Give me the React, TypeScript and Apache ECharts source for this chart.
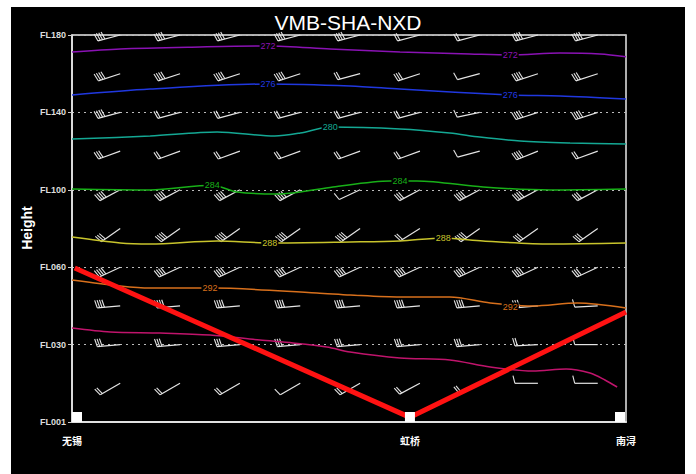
import React, { useEffect, useRef } from "react";
import * as echarts from "echarts";

// ---- axes ----
const yTickValues = [500, 600, 700, 800, 900, 1000];
const yTickLabels = ["FL180", "FL140", "FL100", "FL060", "FL030", "FL001"];
const stationNames = ["无锡", "虹桥", "南浔"];
const stationX = [0, 61, 100];

// ---- flight route (x distance, pressure hPa) ----
const routeX = [0.5, 61, 100];
const routeP = [801, 994, 858];

// ---- isotherms [x, pressure] ----
const iso272 = [[0, 522], [8.7, 518], [23.1, 515.5], [35.4, 514.2], [46.6, 518], [59.2, 522], [71.8, 524.5], [79.1, 525.8], [88.1, 523.3], [95.3, 524.5], [100, 528]];
const iso276 = [[0, 577.5], [14.1, 569.8], [35.4, 563.3], [50.2, 565.9], [59.2, 569.8], [79.1, 577.5], [88.1, 578.8], [100, 582.7]];
const iso280 = [[0, 634.4], [14.1, 630.5], [26.2, 625.3], [36.6, 630.5], [41.2, 626.6], [46.6, 618.9], [59.2, 621.4], [68.2, 626.6], [73.6, 631.8], [80.9, 637], [89.9, 639.5], [100, 640.8]];
const iso284 = [[0, 699], [14.1, 700.3], [25.3, 694], [29.8, 702.8], [37, 705.4], [41.2, 702.8], [47.1, 696.4], [57.4, 688.6], [62.3, 688.6], [74.2, 696.4], [86.3, 700.3], [100, 699]];
const iso288 = [[0, 761], [8.7, 768.7], [14.1, 770], [26.2, 766.1], [35.7, 768.7], [50.2, 767.4], [59.2, 766.1], [67, 762.3], [74.2, 766.1], [86.3, 770], [100, 768.7]];
const iso292 = [[0, 816.5], [8.7, 824.3], [14.1, 826.9], [25.3, 826.9], [44.2, 833.3], [50.2, 835.9], [59.2, 838.5], [68.2, 838.5], [75.5, 846.3], [83.2, 850.1], [91.2, 846.3], [100, 852.7]];
const iso296 = [[0, 878.6], [6.9, 883.7], [15.9, 885], [24.9, 887.6], [33.9, 894.1], [39.9, 897.9], [46, 903.1], [50.2, 909.6], [59.2, 917.3], [68.2, 919.9], [75.5, 928.9], [83.2, 934.1], [89.2, 931.5], [93.5, 936.7], [96.2, 945.7], [98.4, 954.8]];

const isoNames = ["272", "276", "280", "284", "288", "292", "296"];
const isoColors = ["#8a12b4", "#2038e0", "#14a894", "#18b018", "#c8c42c", "#d8701c", "#c0146c"];
const isoLines = [iso272, iso276, iso280, iso284, iso288, iso292, iso296];

// contour label positions [x, pressure, text]
const isoLabels = [
  [35.4, 514.2, "272"], [79.1, 525.3, "272"],
  [35.4, 563.3, "276"], [79.1, 577.5, "276"],
  [46.6, 618.9, "280"],
  [25.3, 694, "284"], [59.2, 688.6, "284"],
  [35.7, 768.7, "288"], [67, 762.3, "288"],
  [24.9, 826.9, "292"], [79.1, 851.4, "292"],
];
const isoLabelColors = ["#8a12b4", "#8a12b4", "#2038e0", "#2038e0", "#14a894", "#18b018", "#18b018", "#c8c42c", "#c8c42c", "#d8701c", "#d8701c"];

// ---- wind barbs ----
const barbX = [8.7, 19.5, 30.3, 41.2, 52.0, 62.8, 73.6, 84.1, 94.9];
const barbLevels = [500, 550, 600, 650, 700, 750, 800, 850, 900, 950];
const barbAngles = [
  [15, 15, 15, 15, 15, 15, 15, 15, 15],
  [18, 18, 18, 18, 15, 18, 15, 18, 18],
  [15, 15, 15, 15, 15, 15, 12, 18, 18],
  [20, 20, 20, 20, 20, 20, 15, 22, 20],
  [28, 28, 28, 28, 25, 28, 28, 28, 28],
  [35, 35, 35, 35, 35, 32, 35, 35, 35],
  [25, 25, 25, 25, 25, 25, 25, 25, 25],
  [5, 5, 5, 5, 5, 5, 5, 5, 3],
  [5, 5, 5, 5, 5, 5, 5, 3, 0],
  [30, 30, 30, 30, 30, 28, 25, 0, 0],
];
const barbCounts = [
  [4, 4, 4, 4, 4, 2, 2, 4, 4],
  [4, 4, 4, 4, 2, 3, 1, 4, 3],
  [4, 2, 2, 2, 2, 2, 1, 4, 4],
  [3, 2, 2, 2, 2, 2, 1, 4, 2],
  [4, 4, 4, 4, 1, 3, 4, 4, 3],
  [3, 4, 4, 4, 4, 2, 4, 3, 3],
  [4, 4, 4, 4, 4, 4, 4, 4, 3],
  [4, 4, 4, 4, 4, 4, 4, 3, 1],
  [3, 3, 3, 3, 3, 3, 3, 2, 1],
  [2, 2, 2, 1, 2, 2, 2, 1, 1],
];

export default function App() {
  const ref = useRef<HTMLDivElement>(null);

  useEffect(() => {
    if (!ref.current) return;
    const chart = echarts.init(ref.current, undefined, { renderer: "svg" });

    const barbData: number[][] = [];
    barbLevels.forEach((p, r) => {
      barbX.forEach((x, c) => {
        barbData.push([x, p, barbAngles[r][c], barbCounts[r][c]]);
      });
    });

    const barbColor = "#e4e4e4";
    const renderBarb = (params: any, api: any) => {
      const pt = api.coord([api.value(0), api.value(1)]);
      const a = (api.value(2) * Math.PI) / 180;
      const n = api.value(3);
      const L = 23, B = 8, S = 2.4;
      const dx = -Math.cos(a), dy = Math.sin(a);
      const ex = pt[0] + L * dx, ey = pt[1] + L * dy;
      let bx = -Math.sin(a) + 0.25 * dx;
      let by = -Math.cos(a) + 0.25 * dy;
      const bl = Math.sqrt(bx * bx + by * by);
      bx /= bl; by /= bl;
      const children: any[] = [
        { type: "line", shape: { x1: pt[0], y1: pt[1], x2: ex, y2: ey }, style: { stroke: barbColor, lineWidth: 1.2 } },
      ];
      for (let k = 0; k < n; k++) {
        const sx = ex - k * S * dx, sy = ey - k * S * dy;
        children.push({
          type: "line",
          shape: { x1: sx, y1: sy, x2: sx + B * bx, y2: sy + B * by },
          style: { stroke: barbColor, lineWidth: 1.1 },
        });
      }
      return { type: "group", children };
    };

    const series: any[] = [
      {
        type: "custom",
        name: "wind",
        renderItem: renderBarb,
        data: barbData,
        z: 2,
        silent: true,
      },
    ];
    isoLines.forEach((d, i) => {
      series.push({
        type: "line",
        name: isoNames[i],
        data: d,
        smooth: 0.3,
        symbol: "none",
        lineStyle: { color: isoColors[i], width: 1.5 },
        z: 3,
        silent: true,
      });
    });
    series.push({
      type: "scatter",
      name: "isoLabels",
      data: isoLabels.map((v, i) => ({
        value: v,
        label: { color: isoLabelColors[i] },
      })),
      symbol: "circle",
      symbolSize: 2,
      itemStyle: { color: "rgba(0,0,0,0)", opacity: 1 },
      label: {
        show: true,
        position: "inside",
        formatter: (p: any) => p.value[2],
        fontSize: 9,
        fontFamily: "Liberation Sans",
        backgroundColor: "#000000",
        padding: [0, 1],
      },
      z: 4,
      silent: true,
    });
    series.push({
      type: "line",
      name: "route",
      data: routeX.map((x, i) => [x, routeP[i]]),
      symbol: "none",
      lineStyle: { color: "#ff1212", width: 5 },
      z: 5,
      silent: true,
    });
    const squareOffsets = [[5, -5], [0, -5], [-6, -5]];
    series.push({
      type: "scatter",
      name: "stations",
      data: stationX.map((x, i) => ({
        value: [x, 1000],
        symbolOffset: squareOffsets[i],
      })),
      symbol: "rect",
      symbolSize: 10,
      itemStyle: { color: "#ffffff", opacity: 1 },
      z: 6,
      silent: true,
    });

    chart.setOption({
      animation: false,
      backgroundColor: "transparent",
      title: {
        text: "VMB-SHA-NXD",
        left: "center",
        top: 7,
        textStyle: { color: "#ffffff", fontSize: 21, fontWeight: "normal", fontFamily: "Liberation Sans" },
      },
      grid: {
        left: 72,
        right: 70,
        top: 35,
        bottom: 52,
        show: true,
        borderColor: "#e8e8e8",
        borderWidth: 1.5,
        backgroundColor: "transparent",
      },
      xAxis: {
        type: "value",
        min: 0,
        max: 100,
        axisLine: { show: true, lineStyle: { color: "#e0e0e0", width: 2 } },
        axisTick: { show: false },
        splitLine: { show: false },
        axisLabel: {
          customValues: stationX,
          formatter: (v: number) => {
            const i = stationX.indexOf(v);
            return i >= 0 ? stationNames[i] : "";
          },
          color: "#ffffff",
          fontSize: 10,
          fontWeight: "bold",
          fontFamily: "Noto Sans CJK SC",
          margin: 13,
        },
      },
      yAxis: {
        type: "value",
        min: 500,
        max: 1000,
        interval: 100,
        inverse: true,
        axisLine: { show: true, lineStyle: { color: "#e8e8e8", width: 1.5 } },
        axisTick: { show: true, length: 4, lineStyle: { color: "#cccccc" } },
        axisLabel: {
          formatter: (v: number) => {
            const i = yTickValues.indexOf(v);
            return i >= 0 ? yTickLabels[i] : "";
          },
          color: "#dddddd",
          fontSize: 9,
          fontWeight: "bold",
          fontFamily: "Liberation Sans",
          margin: 6,
        },
        splitLine: { show: true, lineStyle: { color: "#bbbbbb", type: [2, 4], width: 1 } },
      },
      graphic: [
        {
          type: "text",
          x: 27,
          y: 228,
          rotation: Math.PI / 2,
          style: {
            text: "Height",
            fill: "#ffffff",
            fontSize: 14,
            fontWeight: "bold",
            fontFamily: "Liberation Sans",
            align: "center",
            verticalAlign: "middle",
          },
        },
      ],
      series,
    });

    return () => chart.dispose();
  }, []);

  return (
    <div style={{ position: "fixed", left: 0, top: 0, width: 696, height: 474, background: "#ffffff" }}>
      <div style={{ position: "absolute", left: 11, top: 7, width: 674, height: 467, background: "#000000" }} />
      <div ref={ref} style={{ position: "absolute", left: 0, top: 0, width: 696, height: 474 }} />
    </div>
  );
}
